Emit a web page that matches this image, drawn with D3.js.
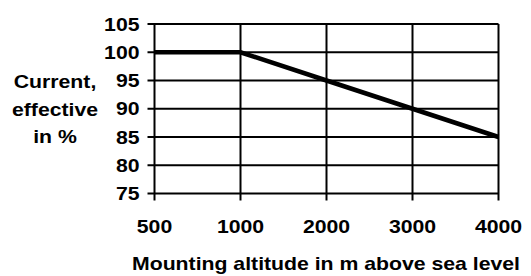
<!DOCTYPE html>
<html>
<head>
<meta charset="utf-8">
<script src="https://cdn.jsdelivr.net/npm/d3@7"></script>
<style>
  body { margin: 0; background: #fff; }
  text { font-family: Arial, "Liberation Sans", sans-serif; font-weight: bold; fill: #000; font-size: 18px; }
</style>
</head>
<body>
<svg id="chart" width="531" height="276"></svg>
<script>
var altitudes = ["500", "1000", "2000", "3000", "4000"];
var currentPct = [100, 100, 95, 90, 85];
var yTicks = [75, 80, 85, 90, 95, 100, 105];
var yTitleLines = ["Current,", "effective", "in %"];
var xTitle = "Mounting altitude in m above sea level";

var plotLeft = 154.5, plotRight = 498.5, plotTop = 24, plotBottom = 193.5;
var stretch = 1.18; // the reference text is a bit wider than the font

var svg = d3.select("#chart");

var x = d3.scalePoint()
  .domain(altitudes)
  .range([plotLeft, plotRight]);

var y = d3.scaleLinear()
  .domain([75, 105])
  .range([plotBottom, plotTop]);

function place(px, py) {
  return "translate(" + px + "," + py + ") scale(" + stretch + ",1)";
}

// horizontal grid
svg.append("g")
  .selectAll("line")
  .data(yTicks)
  .enter()
  .append("line")
    .attr("x1", plotLeft - 7)
    .attr("x2", plotRight)
    .attr("y1", function(d) { return y(d); })
    .attr("y2", function(d) { return y(d); })
    .attr("stroke", "#000")
    .attr("stroke-width", 2);

// vertical grid + x ticks
svg.append("g")
  .selectAll("line")
  .data(altitudes)
  .enter()
  .append("line")
    .attr("x1", function(d) { return x(d); })
    .attr("x2", function(d) { return x(d); })
    .attr("y1", plotTop)
    .attr("y2", plotBottom + 7)
    .attr("stroke", "#000")
    .attr("stroke-width", 2);

// y tick labels
svg.append("g")
  .selectAll("text")
  .data(yTicks)
  .enter()
  .append("text")
    .attr("transform", function(d) { return place(139.5, y(d) + 6.5); })
    .attr("text-anchor", "end")
    .text(function(d) { return d; });

// x tick labels
svg.append("g")
  .selectAll("text")
  .data(altitudes)
  .enter()
  .append("text")
    .attr("transform", function(d) { return place(x(d), 232.5); })
    .attr("text-anchor", "middle")
    .text(function(d) { return d; });

// the data line
var line = d3.line()
  .x(function(d, i) { return x(altitudes[i]); })
  .y(function(d) { return y(d); });

svg.append("path")
  .datum(currentPct)
  .attr("fill", "none")
  .attr("stroke", "#000")
  .attr("stroke-width", 4.5)
  .attr("d", line);

// y title
svg.append("g")
  .selectAll("text")
  .data(yTitleLines)
  .enter()
  .append("text")
    .attr("transform", function(d, i) { return place(55, 88 + i * 27.6); })
    .attr("text-anchor", "middle")
    .text(function(d) { return d; });

// x title
svg.append("text")
  .attr("transform", place(326, 270))
  .attr("text-anchor", "middle")
  .text(xTitle);
</script>
</body>
</html>
